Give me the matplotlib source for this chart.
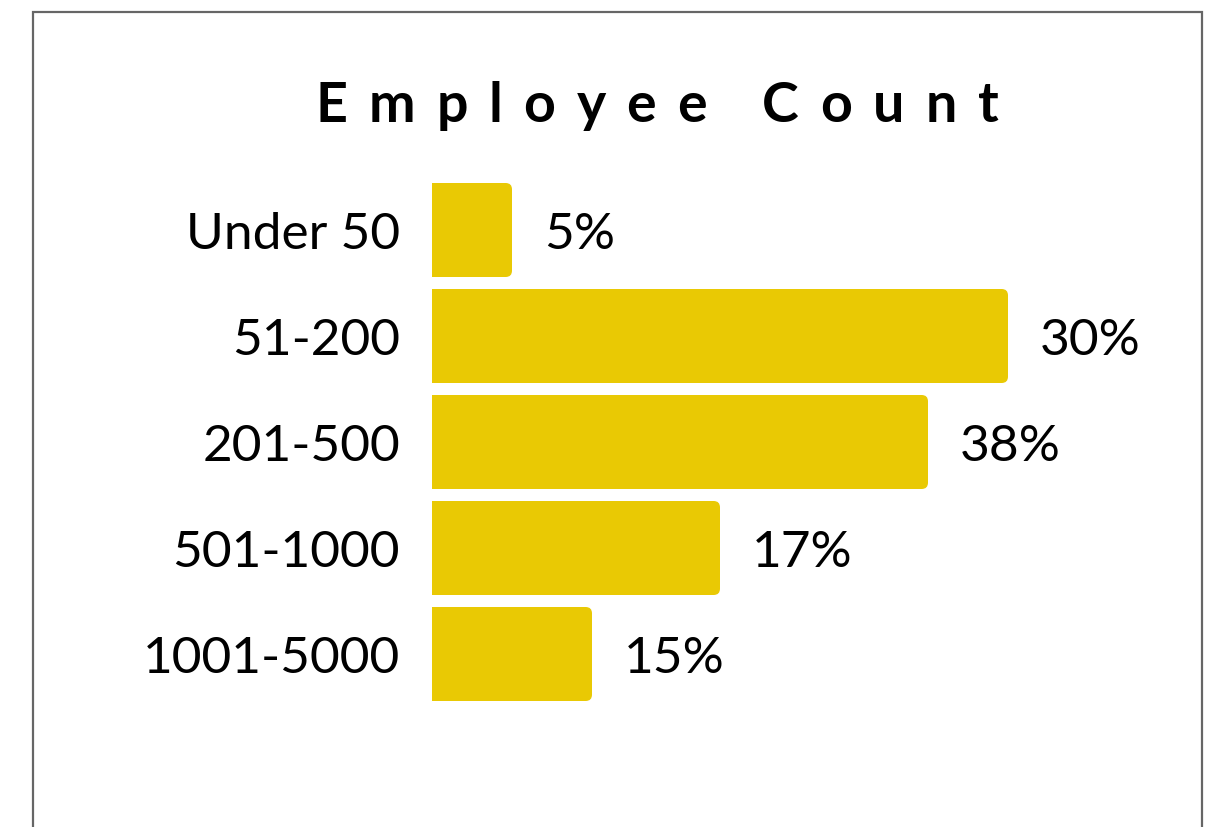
import matplotlib
matplotlib.use("Agg")
import matplotlib.pyplot as plt
from matplotlib.patches import FancyBboxPatch, Rectangle

# data
categories = ["Under 50", "51-200", "201-500", "501-1000", "1001-5000"]
bar_values = [5, 36, 31, 18, 10]          # bar lengths as drawn
value_labels = ["5%", "30%", "38%", "17%", "15%"]  # printed labels
title = "Employee Count"

BAR_COLOR = "#E9C904"
FONT = "Lato"

W, H = 1211, 827
fig = plt.figure(figsize=(W / 100, H / 100), dpi=100)
fig.patch.set_facecolor("white")

# outer frame (bottom edge runs off the image)
fig.patches.append(Rectangle((33 / W, -0.05), (1202 - 33) / W, (H - 12) / H + 0.05,
                             transform=fig.transFigure, fill=False,
                             edgecolor="#666666", linewidth=1.6))

# axes placed in pixels: x from 432 to 1202, y rows 177..707
ax = fig.add_axes([432 / W, (H - 707) / H, (1202 - 432) / W, 530 / H])
xmax = (1202 - 432) / 16.0
ax.set_xlim(0, xmax)
ax.set_ylim(len(categories) - 0.5, -0.5)
ax.axis("off")

bar_h = 94 / 106
rs = 0.4
aspect = 16 / 106
for i, v in enumerate(bar_values):
    p = FancyBboxPatch((-1, i - bar_h / 2), v + 1, bar_h,
                       boxstyle="round,pad=0,rounding_size=%s" % rs,
                       mutation_aspect=aspect, facecolor=BAR_COLOR,
                       edgecolor="none", clip_on=True)
    ax.add_patch(p)
    ax.text(v + 2.0, i + 0.18, value_labels[i], ha="left", va="baseline",
            fontsize=37, family=FONT, color="black")
    ax.text(-2.0, i + 0.18, categories[i], ha="right", va="baseline",
            fontsize=37, family=FONT, color="black", clip_on=False)

# title with wide letter spacing: place each glyph separately
renderer = fig.canvas.get_renderer()
tkw = dict(fontsize=40, fontweight="bold", family=FONT)


def text_w(s):
    t = fig.text(0, 0, s, **tkw)
    w = t.get_window_extent(renderer).width
    t.remove()
    return w


spacing = 21.0
sentinel = text_w("I")
adv = [text_w(title[:k] + "I") - sentinel for k in range(len(title) + 1)]
total = adv[-1] + spacing * (len(title) - 1)
x0 = 657 - total / 2
for k, ch in enumerate(title):
    if ch == " ":
        continue
    fig.text((x0 + adv[k] + spacing * k) / W, (H - 122) / H, ch,
             ha="left", va="baseline", color="black", **tkw)

fig.savefig("out.png", dpi=100)
